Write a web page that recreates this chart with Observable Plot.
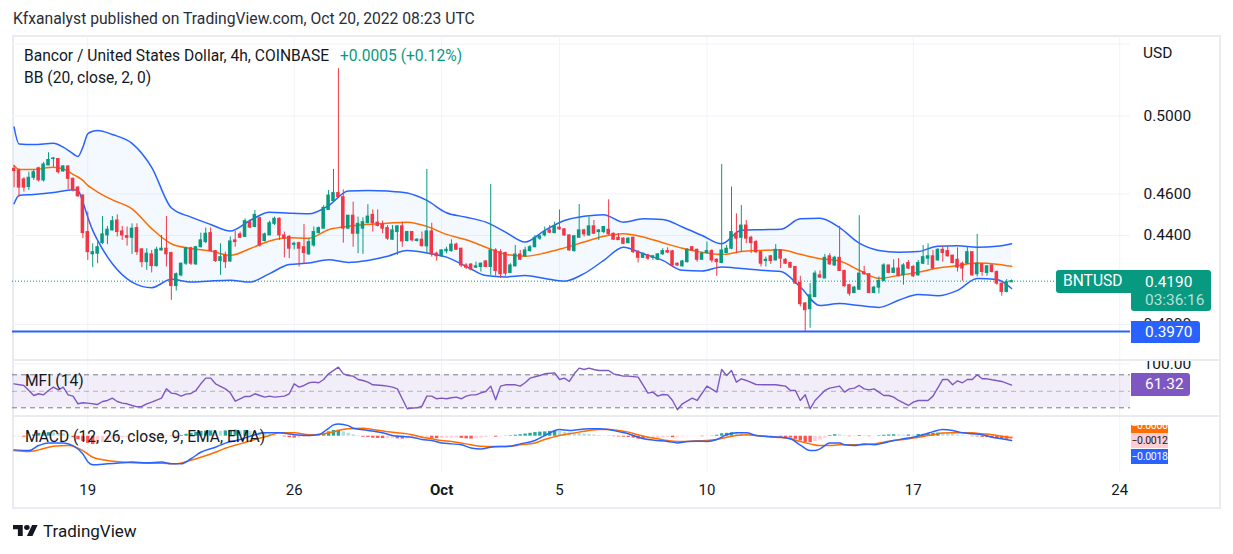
<!DOCTYPE html>
<html>
<head>
<meta charset="utf-8">
<script src="https://cdn.jsdelivr.net/npm/d3@7"></script>
<script src="https://cdn.jsdelivr.net/npm/@observablehq/plot@0.6"></script>
<style>
  body { margin: 0; background: #ffffff; font-family: Roboto, sans-serif; color: #131722; }
  #chart { position: relative; width: 1233px; height: 554px; overflow: hidden; background: #ffffff; }
  .abs { position: absolute; white-space: nowrap; }
  .pane { position: absolute; overflow: hidden; }
  .pane svg { display: block; }
</style>
</head>
<body>
<div id="chart"></div>
<script>
// BNTUSD 4h candles, first bar opens 2022-09-16 12:00 UTC
const barOpen = [
.4725,.4717,.4672,.4634,.4680,.4728,.4667,.4742,.4775,.4775,
.4712,.4737,.4675,.4631,.4592,.4416,.4312,.4315,.4364,.4400,
.4424,.4471,.4419,.4397,.4389,.4435,.4335,.4276,.4312,.4258,
.4330,.4338,.4318,.4168,.4216,.4269,.4340,.4266,.4345,.4369,
.4411,.4327,.4281,.4307,.4279,.4377,.4405,.4393,.4463,.4440,
.4482,.4374,.4400,.4455,.4479,.4400,.4393,.4356,.4364,.4345,
.4312,.4353,.4411,.4432,.4522,.4565,.4604,.4584,.4432,.4494,
.4408,.4432,.4458,.4498,.4461,.4452,.4435,.4380,.4416,.4443,
.4374,.4416,.4374,.4380,.4349,.4419,.4315,.4303,.4326,.4327,
.4357,.4338,.4261,.4265,.4251,.4254,.4279,.4254,.4330,.4322,
.4318,.4227,.4257,.4311,.4303,.4327,.4345,.4385,.4400,.4424,
.4411,.4437,.4429,.4400,.4327,.4389,.4424,.4400,.4443,.4416,
.4416,.4427,.4408,.4389,.4385,.4364,.4389,.4322,.4296,.4307,
.4296,.4287,.4312,.4327,.4326,.4269,.4257,.4276,.4345,.4333,
.4287,.4318,.4327,.4287,.4272,.4318,.4338,.4408,.4389,.4447,
.4389,.4369,.4322,.4281,.4303,.4284,.4330,.4287,.4272,.4254,
.4182,.4091,.4066,.4119,.4216,.4202,.4303,.4261,.4296,.4236,
.4172,.4137,.4152,.4230,.4221,.4137,.4161,.4191,.4261,.4227,
.4247,.4216,.4272,.4254,.4216,.4269,.4292,.4303,.4284,.4333,
.4327,.4306,.4287,.4269,.4269,.4322,.4221,.4266,.4227,.4261,
.4231,.4179,.4142,.4185];
const barHigh = [
.4742,.4725,.4680,.4708,.4720,.4733,.4758,.4807,.4783,.4778,
.4742,.4742,.4678,.4637,.4596,.4511,.4361,.4369,.4490,.4443,
.4490,.4498,.4443,.4440,.4455,.4455,.4338,.4338,.4330,.4345,
.4400,.4490,.4322,.4227,.4272,.4345,.4345,.4349,.4411,.4435,
.4435,.4330,.4361,.4322,.4393,.4419,.4416,.4479,.4474,.4519,
.4487,.4411,.4468,.4487,.4484,.4416,.4400,.4369,.4369,.4452,
.4385,.4440,.4440,.4543,.4617,.4722,.5260,.4620,.4494,.4560,
.4487,.4484,.4547,.4522,.4522,.4468,.4447,.4447,.4447,.4463,
.4419,.4419,.4385,.4416,.4722,.4458,.4322,.4333,.4345,.4380,
.4364,.4340,.4269,.4269,.4276,.4272,.4284,.4647,.4338,.4333,
.4322,.4269,.4353,.4330,.4345,.4353,.4400,.4400,.4440,.4447,
.4463,.4522,.4432,.4403,.4400,.4548,.4429,.4487,.4471,.4427,
.4443,.4571,.4411,.4408,.4389,.4389,.4393,.4330,.4318,.4312,
.4307,.4315,.4338,.4342,.4330,.4272,.4284,.4338,.4349,.4336,
.4322,.4369,.4333,.4292,.4747,.4353,.4634,.4503,.4543,.4471,
.4396,.4377,.4327,.4299,.4307,.4357,.4333,.4292,.4276,.4257,
.4212,.4095,.4179,.4236,.4236,.4312,.4315,.4303,.4443,.4239,
.4176,.4167,.4494,.4257,.4224,.4167,.4209,.4269,.4261,.4287,
.4292,.4269,.4284,.4261,.4284,.4353,.4361,.4330,.4338,.4349,
.4349,.4307,.4342,.4276,.4345,.4322,.4405,.4269,.4261,.4266,
.4236,.4182,.4197,.4195];
const barLow = [
.4631,.4584,.4609,.4617,.4667,.4659,.4659,.4742,.4733,.4700,
.4708,.4620,.4609,.4584,.4385,.4284,.4251,.4269,.4357,.4357,
.4421,.4393,.4377,.4350,.4312,.4307,.4251,.4239,.4227,.4254,
.4327,.4254,.4105,.4146,.4209,.4261,.4261,.4261,.4342,.4361,
.4327,.4275,.4216,.4247,.4276,.4345,.4385,.4393,.4432,.4437,
.4345,.4369,.4400,.4447,.4377,.4296,.4292,.4333,.4254,.4269,
.4307,.4345,.4408,.4432,.4519,.4565,.4581,.4364,.4427,.4345,
.4315,.4312,.4455,.4416,.4440,.4408,.4377,.4377,.4307,.4345,
.4369,.4369,.4369,.4345,.4315,.4299,.4281,.4299,.4315,.4322,
.4330,.4251,.4242,.4236,.4247,.4231,.4251,.4216,.4212,.4202,
.4212,.4224,.4254,.4284,.4299,.4322,.4342,.4377,.4393,.4408,
.4408,.4424,.4396,.4327,.4322,.4389,.4393,.4396,.4405,.4377,
.4408,.4400,.4377,.4377,.4357,.4361,.4315,.4272,.4292,.4284,
.4284,.4284,.4307,.4315,.4254,.4257,.4254,.4272,.4327,.4276,
.4284,.4315,.4272,.4212,.4269,.4315,.4333,.4315,.4322,.4361,
.4315,.4315,.4254,.4254,.4266,.4281,.4247,.4266,.4247,.4176,
.4076,.3970,.3984,.4119,.4202,.4202,.4261,.4257,.4236,.4164,
.4123,.4134,.4149,.4216,.4134,.4134,.4134,.4186,.4224,.4224,
.4209,.4172,.4242,.4206,.4212,.4266,.4261,.4242,.4281,.4276,
.4299,.4269,.4231,.4190,.4266,.4212,.4209,.4212,.4212,.4227,
.4172,.4123,.4137,.4183];
const barClose = [
.4714,.4631,.4631,.4680,.4708,.4667,.4747,.4770,.4778,.4708,
.4737,.4675,.4617,.4588,.4411,.4322,.4322,.4345,.4405,.4427,
.4468,.4416,.4400,.4389,.4432,.4322,.4276,.4315,.4258,.4333,
.4338,.4312,.4168,.4221,.4269,.4340,.4269,.4345,.4377,.4408,
.4327,.4281,.4299,.4276,.4372,.4369,.4389,.4468,.4437,.4498,
.4353,.4405,.4458,.4479,.4400,.4385,.4338,.4361,.4338,.4318,
.4369,.4416,.4435,.4532,.4592,.4604,.4584,.4432,.4494,.4408,
.4455,.4463,.4490,.4458,.4445,.4432,.4385,.4424,.4443,.4372,
.4416,.4377,.4380,.4350,.4419,.4312,.4303,.4330,.4333,.4357,
.4333,.4261,.4251,.4242,.4257,.4269,.4254,.4330,.4236,.4221,
.4224,.4261,.4311,.4287,.4330,.4345,.4389,.4396,.4416,.4413,
.4443,.4429,.4400,.4330,.4396,.4424,.4405,.4443,.4408,.4424,
.4440,.4405,.4380,.4378,.4361,.4385,.4322,.4296,.4315,.4292,
.4303,.4312,.4327,.4320,.4261,.4261,.4279,.4333,.4330,.4287,
.4315,.4327,.4284,.4276,.4330,.4338,.4416,.4385,.4447,.4385,
.4364,.4322,.4269,.4287,.4281,.4333,.4292,.4269,.4251,.4179,
.4088,.4062,.4127,.4224,.4206,.4296,.4266,.4296,.4236,.4167,
.4134,.4161,.4224,.4221,.4137,.4161,.4191,.4261,.4227,.4247,
.4212,.4261,.4247,.4212,.4272,.4299,.4303,.4247,.4333,.4318,
.4303,.4272,.4251,.4247,.4322,.4216,.4269,.4231,.4257,.4231,
.4179,.4142,.4185,.4190];

// Bollinger Bands (20, close, 2), values at bar numbers
const bbIndex = [0,1,4,8,10,12,13,14,15,16,17,20,24,28,32,36,40,44,48,52,56,60,64,68,72,76,80,84,88,92,96,100,104,108,112,116,120,124,128,132,136,140,144,148,152,156,160,164,168,172,176,180,184,188,192,196,200,203];
const bbUpper = [.4941,.4853,.4850,.4856,.4836,.4802,.4788,.4836,.4906,.4919,.4923,.4902,.4856,.4733,.4532,.4487,.4452,.4421,.4471,.4511,.4506,.4503,.4543,.4614,.4617,.4614,.4604,.4568,.4508,.4487,.4463,.4416,.4369,.4424,.4471,.4491,.4499,.4463,.4479,.4476,.4440,.4400,.4361,.4424,.4427,.4429,.4479,.4482,.4437,.4364,.4330,.4322,.4325,.4350,.4352,.4345,.4349,.4361];
const bbBasis = [.4742,.4722,.4722,.4733,.4725,.4697,.4684,.4667,.4642,.4625,.4609,.4571,.4527,.4432,.4361,.4339,.4327,.4307,.4338,.4374,.4389,.4387,.4427,.4443,.4452,.4458,.4463,.4443,.4405,.4380,.4345,.4312,.4303,.4318,.4342,.4369,.4396,.4408,.4393,.4366,.4340,.4321,.4311,.4325,.4330,.4333,.4312,.4292,.4281,.4239,.4202,.4216,.4230,.4249,.4260,.4272,.4267,.4257];
const bbLower = [.4552,.4592,.4597,.4607,.4614,.4620,.4617,.4560,.4487,.4424,.4377,.4269,.4186,.4161,.4198,.4186,.4191,.4194,.4186,.4224,.4265,.4272,.4287,.4275,.4284,.4303,.4330,.4318,.4299,.4257,.4215,.4209,.4215,.4202,.4190,.4224,.4284,.4345,.4315,.4284,.4239,.4236,.4254,.4247,.4239,.4234,.4164,.4082,.4091,.4082,.4074,.4105,.4131,.4125,.4149,.4202,.4197,.4157];

// MFI (14)
const mfiIndex = [0,2,4,5,6,7,8,9,10,11,12,13,14,15,17,18,19,20,21,22,23,24,25,26,27,28,30,31,32,33,34,35,36,37,38,39,40,41,43,44,45,46,47,48,49,50,51,52,53,55,56,57,58,59,60,61,62,63,64,66,67,68,69,70,71,72,73,75,76,77,78,79,80,81,82,83,84,85,86,87,88,89,90,91,92,93,94,95,96,97,98,99,100,102,103,104,105,107,108,110,111,112,113,114,115,116,117,118,119,121,122,124,125,127,129,130,131,132,133,134,135,136,138,139,141,143,144,145,146,147,148,149,151,153,155,156,157,158,159,160,161,162,163,165,166,168,169,170,171,172,173,174,175,176,177,178,179,180,182,183,184,186,187,189,190,191,192,193,194,195,196,197,198,199,201,203];
const mfiValue = [63.6,60.6,42.4,45.5,43.6,51.5,57.6,52.7,57.6,43.6,41.2,27.3,29.1,28.5,26.1,31.5,33.3,37.6,31.5,28.5,27.3,24.2,21.8,22.4,27.3,30.3,37.6,54.5,46.7,45.5,41.2,44.8,46.1,51.5,63.6,73.9,73.9,63.6,54.5,47.3,32.1,36.4,40.6,40.6,45.5,42.4,39.4,41.2,39.4,41.2,45.5,63.6,57.6,60.6,65.5,66.7,65.5,71.5,81.8,93.9,81.8,78.8,77.6,71.5,69.7,66.7,61.8,60.6,59.4,57.6,54.5,36.4,18.2,19.4,20.0,23.0,41.2,41.2,36.4,37.6,36.4,38.2,39.4,36.4,41.2,43.6,43.6,47.3,49.7,59.4,34.5,59.4,61.8,61.8,59.4,65.5,73.9,78.8,81.8,83.6,71.5,73.9,67.9,81.8,92.1,89.7,92.1,89.7,87.9,87.9,81.8,77.6,77.6,75.8,46.7,48.5,41.2,44.2,43.6,33.3,16.4,27.3,37.6,33.3,59.4,48.5,89.7,78.8,87.9,66.7,72.7,69.7,62.4,61.8,61.8,60.6,59.4,51.5,51.5,33.3,43.6,18.2,33.3,51.5,55.8,59.4,48.5,54.5,55.8,60.6,54.5,52.7,54.5,48.5,42.4,42.4,39.4,33.3,24.2,30.3,33.3,33.3,41.2,71.5,71.5,61.8,69.1,65.5,71.5,71.5,80.0,72.7,72.7,70.9,67.9,61.32];

// MACD (12, 26, close, 9)
const macdIndex = [0,3,5,7,10,12,14,15,16,19,22,24,27,30,32,34,36,38,41,43,46,49,51,54,57,60,62,64,65,66,68,69,72,75,77,79,81,83,85,87,89,91,93,95,97,99,101,103,106,108,111,113,115,117,119,121,123,125,127,129,131,133,135,137,139,141,143,145,147,149,151,153,155,158,160,162,163,164,166,168,169,171,173,175,177,179,181,183,185,187,189,191,193,195,197,199,201,203];
const macdValue = [-.0057,-.0060,-.0039,-.0028,-.0028,-.0039,-.0074,-.0106,-.0119,-.0115,-.0111,-.0108,-.0111,-.0108,-.0115,-.0115,-.0094,-.0067,-.0046,-.0029,-.0014,.0006,.0014,.0014,.0006,.0003,.0007,.0033,.0047,.0051,.0044,.0033,.0024,.0014,.0003,-.0001,-.0004,-.0014,-.0018,-.0028,-.0032,-.0036,-.0049,-.0053,-.0046,-.0043,-.0042,-.0032,-.0018,.0003,.0028,.0024,.0028,.0031,.0031,.0028,.0019,.0010,-.0004,-.0014,-.0018,-.0022,-.0028,-.0022,-.0021,-.0022,-.0014,.0006,.0014,.0014,.0003,-.0001,-.0003,-.0011,-.0037,-.0060,-.0060,-.0053,-.0028,-.0028,-.0036,-.0039,-.0032,-.0036,-.0028,-.0018,-.0011,-.0004,.0006,.0019,.0028,.0024,.0014,.0010,.0006,-.0004,-.0011,-.0018];
const signalIndex = [0,3,5,8,11,14,16,19,22,24,27,30,33,35,38,41,43,46,49,52,54,57,60,62,65,68,71,73,76,79,81,83,85,87,89,91,93,95,97,99,101,103,106,108,111,113,115,117,119,121,123,125,127,129,131,133,135,137,139,141,143,145,147,149,151,153,155,158,160,162,164,166,168,170,173,175,177,179,181,183,185,187,189,191,193,195,197,199,201,203];
const signalValue = [-.0060,-.0064,-.0057,-.0042,-.0039,-.0060,-.0088,-.0101,-.0108,-.0111,-.0113,-.0113,-.0115,-.0106,-.0088,-.0067,-.0050,-.0032,-.0014,.0003,.0014,.0014,.0006,.0007,.0019,.0031,.0033,.0028,.0019,.0012,.0006,-.0004,-.0011,-.0018,-.0022,-.0028,-.0036,-.0042,-.0043,-.0043,-.0042,-.0036,-.0028,-.0014,.0003,.0010,.0017,.0024,.0028,.0028,.0024,.0017,.0006,-.0004,-.0011,-.0018,-.0022,-.0022,-.0019,-.0018,-.0014,-.0004,.0003,.0006,.0003,0,-.0004,-.0011,-.0022,-.0032,-.0039,-.0039,-.0036,-.0036,-.0036,-.0032,-.0025,-.0018,-.0014,-.0008,-.0001,.0006,.0013,.0014,.0014,.0014,.0010,.0006,0,-.0006];
const histValue = [
-.0003,-.0003,-.0004,-.0002,.0005,.0012,.0014,.0015,.0014,.0012,
.0010,.0004,-.0006,-.0015,-.0022,-.0030,-.0035,-.0032,-.0026,-.0018,
-.0014,-.0010,-.0007,-.0005,-.0003,-.0002,.0001,.0002,-.0002,.0002,
.0003,.0002,-.0002,-.0003,.0003,.0008,.0012,.0016,.0020,.0021,
.0022,.0021,.0020,.0022,.0024,.0025,.0022,.0024,.0020,.0019,
.0016,.0011,.0008,.0004,.0001,-.0003,-.0006,-.0008,-.0007,-.0005,
-.0003,-.0001,.0002,.0010,.0018,.0024,.0025,.0018,.0012,.0006,
.0002,-.0004,-.0005,-.0008,-.0009,-.0010,-.0010,-.0009,-.0011,-.0012,
-.0012,-.0011,-.0010,-.0009,-.0008,-.0009,-.0010,-.0009,-.0008,-.0008,
-.0007,-.0009,-.0011,-.0012,-.0010,-.0008,-.0005,-.0002,-.0004,-.0002,
.0001,.0002,.0004,.0006,.0009,.0012,.0015,.0017,.0018,.0020,
.0022,.0020,.0016,.0014,.0013,.0011,.0009,.0007,.0005,.0003,
.0001,-.0001,-.0002,-.0003,-.0004,-.0005,-.0008,-.0012,-.0013,-.0012,
-.0011,-.0009,-.0007,-.0005,-.0006,-.0005,-.0003,-.0002,-.0001,-.0001,
-.0002,-.0001,.0001,.0004,.0010,.0012,.0014,.0013,.0010,.0008,
.0005,.0002,-.0001,-.0002,-.0003,-.0003,-.0004,-.0006,-.0008,-.0013,
-.0020,-.0026,-.0027,-.0022,-.0016,-.0008,.0003,.0006,.0005,.0002,
-.0002,-.0002,.0003,.0002,-.0002,-.0001,.0002,.0004,.0005,.0006,
.0005,.0004,.0005,.0004,.0007,.0008,.0010,.0012,.0013,.0012,
.0011,.0009,.0005,.0002,.0001,-.0002,-.0003,-.0005,-.0006,-.0008,
-.0010,-.0011,-.0013,-.0012];

// Axis ticks and labels
const priceTicks = [0.50, 0.46, 0.44, 0.40];
const priceGrid = [0.54, 0.50, 0.46, 0.44, 0.40];
const dateTicks = ["2022-09-19", "2022-09-26", "2022-10-01", "2022-10-05", "2022-10-10", "2022-10-17", "2022-10-24"];
const dateLabels = ["19", "26", "Oct", "5", "10", "17", "24"];
const lastPrice = 0.4190;
const levelPrice = 0.3970;
const mfiLast = 61.32;
const macdLast = -0.0018, signalLast = -0.0006, histLast = -0.0012;

// ---------- helpers ----------
const BAR = 4 * 3600 * 1000;
const T0 = Date.UTC(2022, 8, 16, 12);
const at = i => new Date(T0 + i * BAR);
const xDomain = [at(-0.3236), at(227.2)];
const UP = "#089981", DOWN = "#f23645", BLUE = "#2962ff", ORANGE = "#ff6d00", PURPLE = "#7e57c2";
const GRID = "#f0f3fa";
const tickDates = dateTicks.map(s => new Date(s + "T00:00:00Z"));
const tickLabel = new Map(tickDates.map((d, k) => [+d, dateLabels[k]]));

const candles = barOpen.map((o, i) => ({
  date: at(i), o, h: barHigh[i], l: barLow[i], c: barClose[i],
  color: barClose[i] >= o ? UP : DOWN
}));
const bands = bbIndex.map((i, k) => ({ date: at(i), upper: bbUpper[k], basis: bbBasis[k], lower: bbLower[k] }));
const mfi = mfiIndex.map((i, k) => ({ date: at(i), v: mfiValue[k] }));
const macd = macdIndex.map((i, k) => ({ date: at(i), v: macdValue[k] }));
const signal = signalIndex.map((i, k) => ({ date: at(i), v: signalValue[k] }));
const hist = histValue.map((v, i) => {
  const p = i ? histValue[i - 1] : v;
  const color = v >= 0 ? (v >= p ? "#26a69a" : "#b2dfdb") : (v < p ? "#ff5252" : "#ffcdd2");
  return { date: at(i), v, color };
});

const root = document.getElementById("chart");
function put(html, css) {
  const d = document.createElement("div");
  d.className = "abs";
  d.innerHTML = html;
  Object.assign(d.style, css);
  root.appendChild(d);
  return d;
}
function pane(node, left, top, w, h) {
  const d = document.createElement("div");
  d.className = "pane";
  Object.assign(d.style, { left: left + "px", top: top + "px", width: w + "px", height: h + "px" });
  d.appendChild(node);
  root.appendChild(d);
}
const baseStyle = { fontFamily: "Roboto, sans-serif", fontSize: "15px", color: "#131722", background: "transparent" };
const W = 1209, MR = 91;
const FS = "15.6px";

// ---------- frame ----------
put("", { left: "12px", top: "35px", width: "1209px", height: "474px", border: "2px solid #e9ebf1", boxSizing: "border-box" });

// ---------- price pane ----------
const pricePlot = Plot.plot({
  width: W, height: 323, marginLeft: 0, marginRight: MR, marginTop: 0, marginBottom: 0,
  style: baseStyle,
  x: { type: "time", domain: xDomain, axis: null },
  y: { type: "log", domain: [0.3853, 0.5444], axis: null },
  color: { type: "identity" },
  marks: [
    Plot.ruleY(priceGrid, { stroke: GRID }),
    Plot.ruleX(tickDates, { stroke: GRID }),
    Plot.areaY(bands, { x: "date", y1: "lower", y2: "upper", fill: "#2196f3", fillOpacity: 0.055, curve: "monotone-x" }),
    Plot.lineY(bands, { x: "date", y: "upper", stroke: BLUE, strokeWidth: 1.5, curve: "monotone-x" }),
    Plot.lineY(bands, { x: "date", y: "lower", stroke: BLUE, strokeWidth: 1.5, curve: "monotone-x" }),
    Plot.lineY(bands, { x: "date", y: "basis", stroke: ORANGE, strokeWidth: 1.5, curve: "monotone-x" }),
    Plot.ruleY([levelPrice], { stroke: BLUE, strokeWidth: 2 }),
    Plot.ruleY([lastPrice], { stroke: UP, strokeDasharray: "1 2", strokeWidth: 1 }),
    Plot.ruleX(candles, { x: "date", y1: "l", y2: "h", stroke: "color", strokeWidth: 1 }),
    Plot.rect(candles, {
      x1: d => new Date(+d.date - 0.36 * BAR), x2: d => new Date(+d.date + 0.36 * BAR),
      y1: "o", y2: "c", fill: "color", insetTop: -0.5, insetBottom: -0.5
    }),
    Plot.axisY(priceTicks, { anchor: "right", label: null, tickSize: 0, tickPadding: 13, tickFormat: d3.format(".4f"), fontSize: 15.5 })
  ]
});
pane(pricePlot, 12, 36, W, 323);

// ---------- MFI pane ----------
const mfiPlot = Plot.plot({
  width: W, height: 56, marginLeft: 0, marginRight: MR, marginTop: 0, marginBottom: 0,
  style: baseStyle,
  x: { type: "time", domain: xDomain, axis: null },
  y: { domain: [4.2, 106], axis: null },
  marks: [
    Plot.ruleY([100], { stroke: GRID }),
    Plot.ruleX(tickDates, { stroke: GRID }),
    Plot.rect([0], { x1: () => xDomain[0], x2: () => xDomain[1], y1: 20, y2: 80, fill: PURPLE, fillOpacity: 0.1 }),
    Plot.ruleY([80, 20], { stroke: "#787b86", strokeDasharray: "5 4" }),
    Plot.ruleY([50], { stroke: "#787b86", strokeOpacity: 0.5, strokeDasharray: "5 4" }),
    Plot.lineY(mfi, { x: "date", y: "v", stroke: PURPLE, strokeWidth: 1.4 }),
    Plot.axisY([100], { anchor: "right", label: null, tickSize: 0, tickPadding: 13, tickFormat: d3.format(".2f"), fontSize: 15.5 })
  ]
});
pane(mfiPlot, 12, 360, W, 56);

// ---------- MACD pane with time axis ----------
const macdPlot = Plot.plot({
  width: W, height: 92, marginLeft: 0, marginRight: MR, marginTop: 0, marginBottom: 36,
  style: baseStyle,
  x: { type: "time", domain: xDomain },
  y: { domain: [-0.01513, 0.00821], axis: null },
  color: { type: "identity" },
  marks: [
    Plot.ruleX(tickDates, { stroke: GRID }),
    Plot.ruleX(hist, { x: "date", y1: 0, y2: "v", stroke: "color", strokeWidth: 3.4 }),
    Plot.lineY(signal, { x: "date", y: "v", stroke: ORANGE, strokeWidth: 1.5, curve: "monotone-x" }),
    Plot.lineY(macd, { x: "date", y: "v", stroke: BLUE, strokeWidth: 1.5, curve: "monotone-x" }),
    Plot.axisX(tickDates.filter(d => tickLabel.get(+d) !== "Oct"), {
      anchor: "bottom", tickSize: 0, tickPadding: 12, label: null, tickFormat: d => tickLabel.get(+d), fontSize: 15
    }),
    Plot.axisX(tickDates.filter(d => tickLabel.get(+d) === "Oct"), {
      anchor: "bottom", tickSize: 0, tickPadding: 12, label: null, tickFormat: d => tickLabel.get(+d), fontSize: 15, fontWeight: "bold"
    })
  ]
});
pane(macdPlot, 12, 416, W, 92);

// pane separators
put("", { left: "12px", top: "359px", width: "1209px", height: "2px", background: "#e9ebf1" });
put("", { left: "12px", top: "415px", width: "1209px", height: "1.5px", background: "#e9ebf1" });

// ---------- text overlays ----------
put("Kfxanalyst published on TradingView.com, Oct 20, 2022 08:23 UTC",
  { left: "13px", top: "9px", fontSize: "15.7px", lineHeight: "20px", color: "#2a2e39" });
put("Bancor / United States Dollar, 4h, COINBASE",
  { left: "24px", top: "46px", fontSize: FS, lineHeight: "20px" });
put("+0.0005 (+0.12%)",
  { left: "340px", top: "46px", fontSize: FS, lineHeight: "20px", color: UP });
put("BB (20, close, 2, 0)",
  { left: "24px", top: "68px", fontSize: FS, lineHeight: "20px" });
put("USD", { left: "1143px", top: "43px", fontSize: "15.5px", lineHeight: "20px" });
put("MFI (14)", { left: "25px", top: "371px", fontSize: FS, lineHeight: "20px" });
put("MACD (12, 26, close, 9, EMA, EMA)", { left: "25px", top: "427px", fontSize: FS, lineHeight: "20px" });

// last price tags
put("BNTUSD", { left: "1056px", top: "270px", width: "75px", height: "23px", lineHeight: "23px", background: UP,
  color: "#fff", fontSize: FS, borderRadius: "3px 0 0 3px", paddingLeft: "7px", boxSizing: "border-box" });
put(d3.format(".4f")(lastPrice) + "<br><span style='color:rgba(255,255,255,0.72)'>03:36:16</span>",
  { left: "1131px", top: "270px", width: "80px", height: "41px", background: UP, color: "#fff",
    fontSize: "15.4px", lineHeight: "18px", paddingTop: "3px", paddingLeft: "14px", boxSizing: "border-box", borderRadius: "0 3px 3px 3px" });
put(d3.format(".4f")(levelPrice), { left: "1131px", top: "321px", width: "69px", height: "22px", lineHeight: "22px",
  background: BLUE, color: "#fff", fontSize: "15.4px", paddingLeft: "14px", boxSizing: "border-box", borderRadius: "0 3px 3px 0" });
put(d3.format(".2f")(mfiLast), { left: "1131px", top: "373px", width: "59px", height: "23px", lineHeight: "23px",
  background: PURPLE, color: "#fff", fontSize: "15.4px", paddingLeft: "14px", boxSizing: "border-box", borderRadius: "0 3px 3px 0" });

// MACD value tags
put("<div style='margin-top:-7px'>" + d3.format(".4f")(signalLast) + "</div>", { left: "1131px", top: "425px", width: "37px", height: "8px",
  lineHeight: "15px", background: ORANGE, color: "#fff", fontSize: "10.5px", textAlign: "center", overflow: "hidden", letterSpacing: "-0.3px" });
put(d3.format(".4f")(histLast), { left: "1131px", top: "433px", width: "37px", height: "15px", lineHeight: "15px",
  background: "#ffcdd2", color: "#131722", fontSize: "10.5px", textAlign: "center", letterSpacing: "-0.3px" });
put(d3.format(".4f")(macdLast), { left: "1131px", top: "449px", width: "37px", height: "15px", lineHeight: "15px",
  background: BLUE, color: "#fff", fontSize: "10.5px", textAlign: "center", letterSpacing: "-0.3px" });

// brand line
put("<svg width='25' height='11' viewBox='0 4 36 18' preserveAspectRatio='none'>" +
  "<path d='M14 22H7V11H0V4h14v18z' fill='#131722'/><circle cx='20' cy='8' r='4' fill='#131722'/>" +
  "<path d='M28 22h-8l7.5-18h8L28 22z' fill='#131722'/></svg>",
  { left: "13px", top: "525px", lineHeight: "0" });
put("TradingView", { left: "43px", top: "520px", fontSize: "17px", lineHeight: "22px", color: "#131722" });
</script>
</body>
</html>
